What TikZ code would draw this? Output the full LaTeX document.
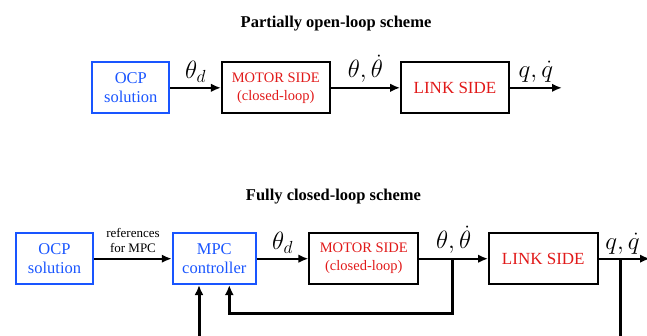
\documentclass[tikz,border=0pt]{standalone}
\usepackage{fix-cm}
\usepackage{fontspec}
\setmainfont{Liberation Serif}
\usetikzlibrary{arrows.meta}
\definecolor{ocpblue}{RGB}{25,85,255}
\definecolor{sidered}{RGB}{225,25,25}
\begin{document}
\begin{tikzpicture}[x=1pt,y=-1pt,
  box/.style={draw=black, line width=1.7pt, minimum height=51pt, inner sep=0pt,
    align=center, font=\fontsize{16.5}{19}\selectfont},
  bluebox/.style={box, draw=ocpblue, text=ocpblue},
  motorbox/.style={box, text=sidered, font=\fontsize{14.5}{18}\selectfont},
  linkbox/.style={box, text=sidered, font=\fontsize{17}{20}\selectfont},
  sig/.style={line width=2.2pt, -{Latex[length=10pt,width=8.5pt]}},
  fb/.style={line width=3pt},
  fbarrow/.style={fb, -{Latex[length=10pt,width=9pt]}},
  lbl/.style={font=\fontsize{25}{25}\selectfont, inner sep=1pt, anchor=south, yshift=3pt},
  smalllbl/.style={font=\fontsize{13}{15}\selectfont, align=center, inner sep=1pt,
    anchor=south, yshift=4pt},
  title/.style={font=\bfseries\fontsize{16.5}{20}\selectfont, anchor=base}]
\useasboundingbox (0,0) rectangle (647,335);
\clip (0,0) rectangle (647,335);

% ---- partially open-loop scheme ----
\node[title] (titleA) at (336,27) {Partially open-loop scheme};
\node[bluebox, minimum width=77pt] (ocpA) at (130.8,87.8) {OCP\\solution};
\node[motorbox, minimum width=108pt] (motorA) at (275.8,87.8) {MOTOR SIDE\\(closed-loop)};
\node[linkbox, minimum width=108pt] (linkA) at (455,87.8) {LINK SIDE};
\coordinate (outA) at (562,87.8);

\draw[sig] (ocpA) -- node[lbl] {$\theta_d$} (motorA);
\draw[sig] (motorA) -- node[lbl] {$\theta,\dot\theta$} (linkA);
\draw[sig] (linkA) -- node[lbl] {$q,\dot q$} (outA);

% ---- fully closed-loop scheme ----
\node[title] (titleB) at (333.5,200.5) {Fully closed-loop scheme};
\node[bluebox, minimum width=77.6pt] (ocpB) at (54.5,258.7) {OCP\\solution};
\node[bluebox, minimum width=83.3pt] (mpc) at (214.3,258.7) {MPC\\controller};
\node[motorbox, minimum width=109pt] (motorB) at (363.8,258.7) {MOTOR SIDE\\(closed-loop)};
\node[linkbox, minimum width=108.7pt] (linkB) at (543.3,258.7) {LINK SIDE};
\coordinate (outB) at (650,258.7);

\draw[sig] (ocpB) -- node[smalllbl] {references\\for MPC} (mpc);
\draw[sig] (mpc) -- node[lbl] {$\theta_d$} (motorB);
\draw[sig] (motorB) -- node[lbl] {$\theta,\dot\theta$} (linkB);
\draw[sig] (linkB) -- (outB);
\node[lbl] (qlbl) at (622.5,258.7) {$q,\dot q$};

% feedback of the motor state into the MPC
\coordinate (tapM) at (452,258.7);
\coordinate (fbM) at (452,313.3);
\draw[fbarrow] (tapM) -- (fbM) -| ([xshift=15pt]mpc.south);

% feedback of the link state (routed below)
\coordinate (tapL) at (620.7,258.7);
\coordinate (downL) at (620.7,345);
\draw[fb] (tapL) -- (downL);
\coordinate (upL) at (199,345);
\draw[fbarrow] (upL) -- (upL |- mpc.south);
\end{tikzpicture}
\end{document}
